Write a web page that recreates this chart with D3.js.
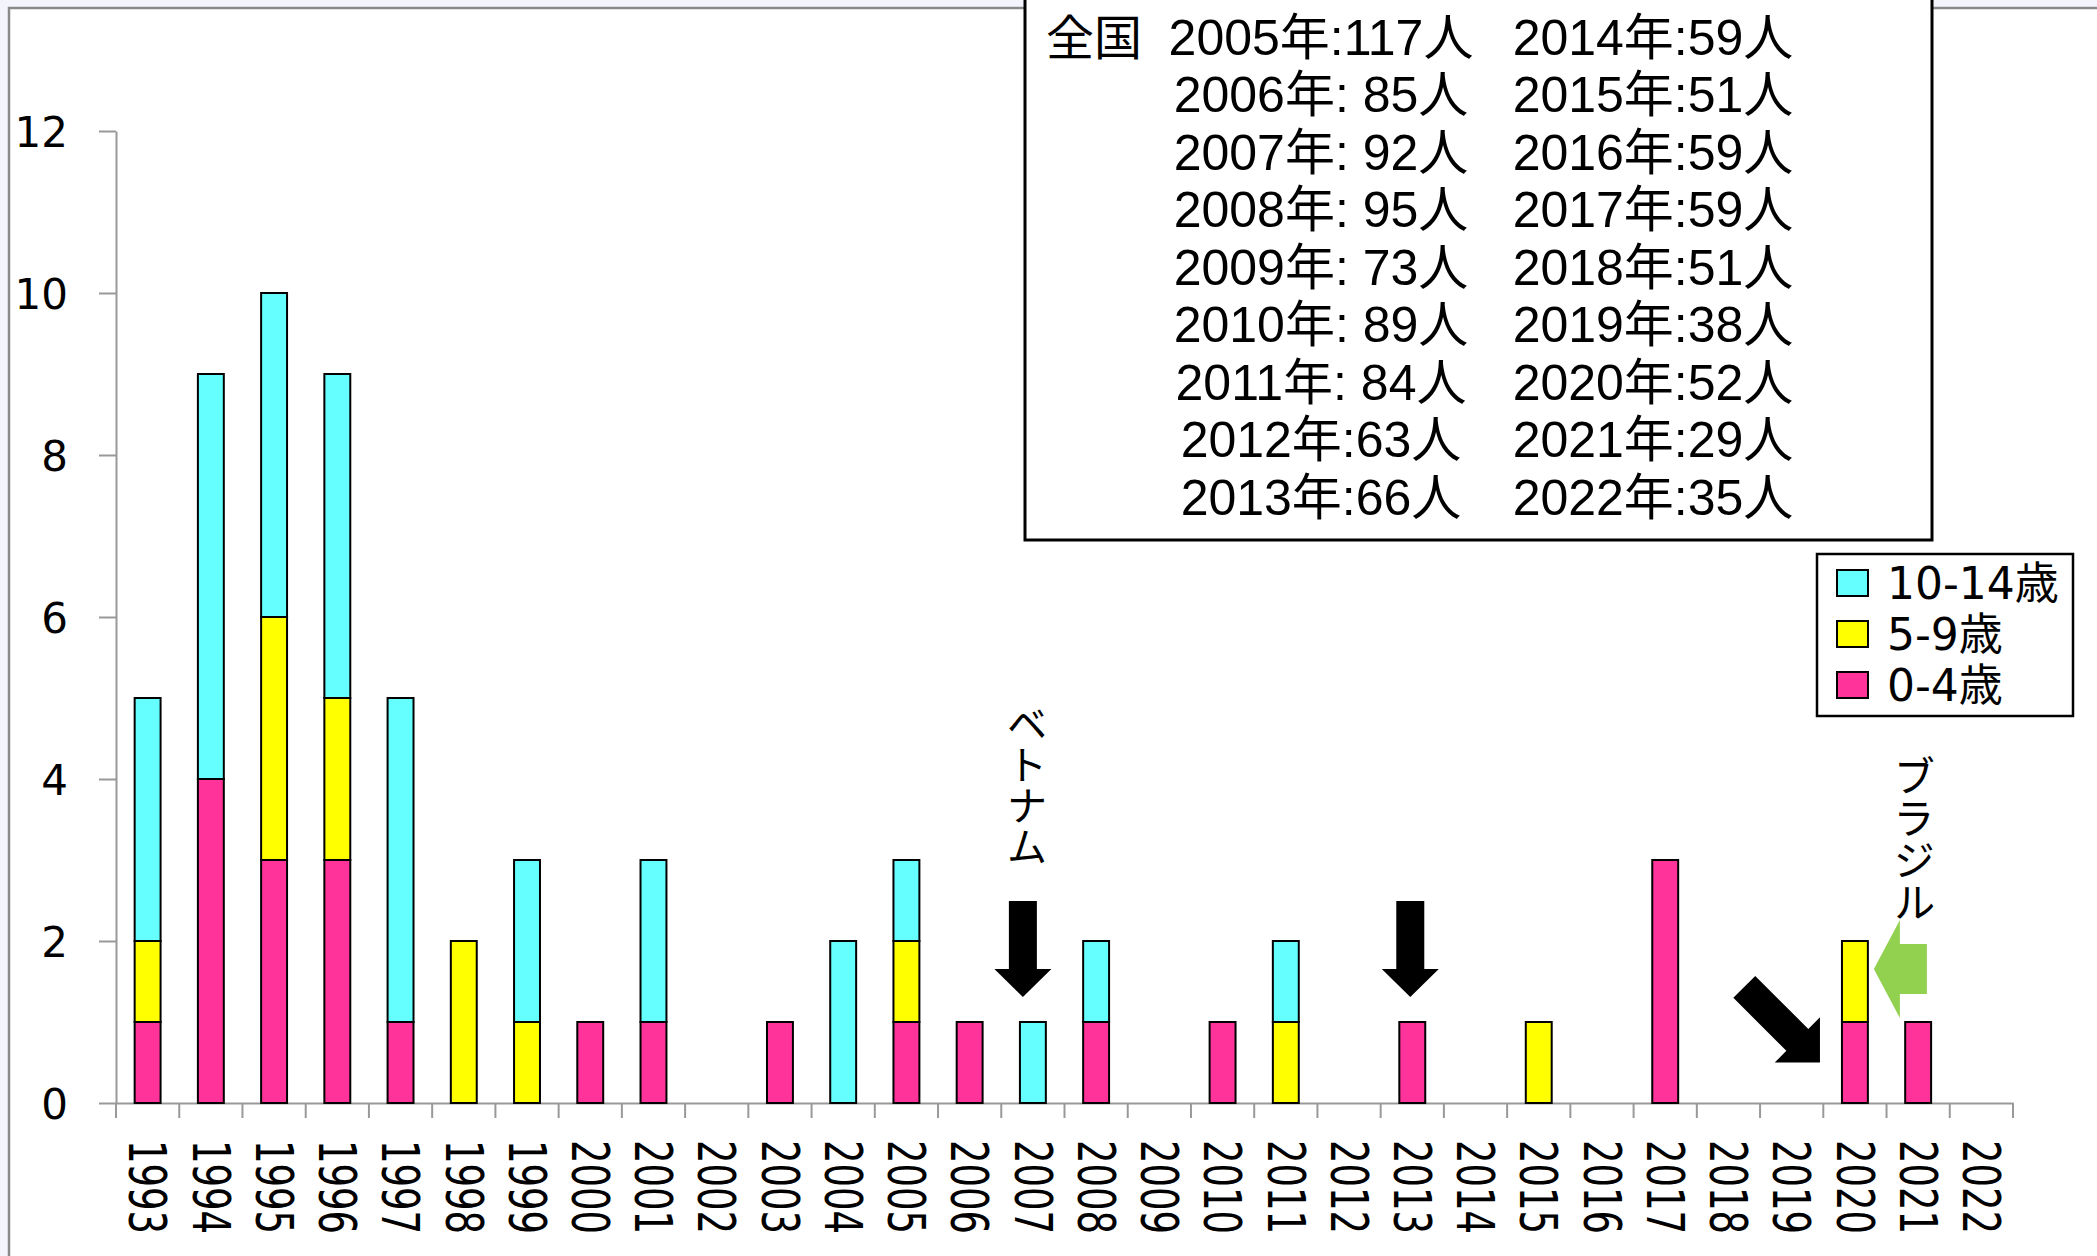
<!DOCTYPE html>
<html lang="ja">
<head>
<meta charset="utf-8">
<script src="https://cdn.jsdelivr.net/npm/d3@7"></script>
<style>
  html, body { margin: 0; padding: 0; background: #fff; }
  svg { display: block; }
  text { font-family: "DejaVu Sans", "Noto Sans CJK JP", sans-serif; fill: #000; }
  .cjk { font-family: "Noto Sans CJK JP", sans-serif; }
  .boxText { font-family: "Liberation Sans", "Noto Sans CJK JP", sans-serif; white-space: pre; }
</style>
</head>
<body>
<svg id="chart" width="2097" height="1256"></svg>
<script>
// Cases by year and age group
const years = ["1993","1994","1995","1996","1997","1998","1999","2000","2001","2002",
               "2003","2004","2005","2006","2007","2008","2009","2010","2011","2012",
               "2013","2014","2015","2016","2017","2018","2019","2020","2021","2022"];
const age0to4   = [1,4,3,3,1,0,0,1,1,0,1,0,1,1,0,1,0,1,0,0,1,0,0,0,3,0,0,1,1,0];
const age5to9   = [1,0,3,2,0,2,1,0,0,0,0,0,1,0,0,0,0,0,1,0,0,0,1,0,0,0,0,1,0,0];
const age10to14 = [3,5,4,4,4,0,2,0,2,0,0,2,1,0,1,1,0,0,1,0,0,0,0,0,0,0,0,0,0,0];

const seriesKeys   = ["0-4歳", "5-9歳", "10-14歳"];
const seriesColors = ["#ff3399", "#ffff00", "#66ffff"];
const legendOrder  = ["10-14歳", "5-9歳", "0-4歳"];
const yTicks = [0, 2, 4, 6, 8, 10, 12];

// Nationwide totals shown in the note box
const nationalTitle = "全国";
const nationalLeft  = ["2005年:117人","2006年: 85人","2007年: 92人","2008年: 95人","2009年: 73人",
                       "2010年: 89人","2011年: 84人","2012年:63人","2013年:66人"];
const nationalRight = ["2014年:59人","2015年:51人","2016年:59人","2017年:59人","2018年:51人",
                       "2019年:38人","2020年:52人","2021年:29人","2022年:35人"];

const rows = years.map((yr, i) => ({
  year: yr, "0-4歳": age0to4[i], "5-9歳": age5to9[i], "10-14歳": age10to14[i]
}));

const W = 2097, H = 1256;
const plot = { left: 116, right: 2013, top: 131, bottom: 1103 };
const svg = d3.select("#chart");

// Slide background and plot-area frame
svg.append("rect").attr("width", W).attr("height", H).attr("fill", "#f4f4fd");
svg.append("rect").attr("x", 9).attr("y", 8).attr("width", W).attr("height", H).attr("fill", "#fff");
svg.append("path").attr("d", `M9,${H}V8H${W}`).attr("fill", "none")
  .attr("stroke", "#8a8a8a").attr("stroke-width", 2.5);

const x = d3.scaleBand().domain(years).range([plot.left, plot.right])
  .paddingInner(0.59).paddingOuter(0.295);
const y = d3.scaleLinear().domain([0, 12]).range([plot.bottom, plot.top]);
const color = d3.scaleOrdinal().domain(seriesKeys).range(seriesColors);

// Y axis
const yAxis = svg.append("g").attr("transform", `translate(${plot.left},0)`)
  .call(d3.axisLeft(y).tickValues(yTicks).tickSize(17).tickSizeOuter(0).tickPadding(31))
  .attr("font-size", null).attr("font-family", null);
yAxis.select(".domain").attr("stroke", "#999").attr("stroke-width", 2);
yAxis.selectAll(".tick line").attr("stroke", "#999").attr("stroke-width", 2);
yAxis.selectAll(".tick text").attr("font-size", 42).attr("dy", "0.36em");

// X axis: labels from the band scale, ticks at category boundaries.
// Labels run downwards with tall, narrow glyphs.
const xAxis = svg.append("g").attr("transform", `translate(0,${plot.bottom})`)
  .call(d3.axisBottom(x).tickSize(0).tickSizeOuter(0).tickPadding(0))
  .attr("font-size", null).attr("font-family", null).attr("text-anchor", null);
xAxis.select(".domain").attr("stroke", "#999").attr("stroke-width", 2);
xAxis.selectAll(".tick text")
  .attr("x", 0).attr("y", 0).attr("dy", "0.36em")
  .attr("transform", "translate(0,37) rotate(90) scale(1,1.37)")
  .attr("text-anchor", "start")
  .attr("font-size", 37);
xAxis.selectAll(".boundary")
  .data(d3.range(years.length + 1).map(i => x.range()[0] + i * x.step()))
  .join("line").attr("class", "boundary")
  .attr("x1", d => d).attr("x2", d => d).attr("y1", 0).attr("y2", 15)
  .attr("stroke", "#999").attr("stroke-width", 2);

// Stacked bars
const stacked = d3.stack().keys(seriesKeys)(rows);
svg.append("g").selectAll("g").data(stacked).join("g")
  .attr("fill", d => color(d.key))
  .selectAll("rect")
  .data(d => d.filter(s => s[1] > s[0]))
  .join("rect")
  .attr("x", d => x(d.data.year))
  .attr("width", x.bandwidth())
  .attr("y", d => y(d[1]))
  .attr("height", d => y(d[0]) - y(d[1]))
  .attr("stroke", "#000").attr("stroke-width", 2);

// Block arrow pointing down with its tip at the origin
function blockArrow(len, headLen, headW, shaftW) {
  return `M0,0L${headW/2},${-headLen}L${shaftW/2},${-headLen}L${shaftW/2},${-len}` +
         `L${-shaftW/2},${-len}L${-shaftW/2},${-headLen}L${-headW/2},${-headLen}Z`;
}
const centre = yr => x(yr) + x.bandwidth() / 2;

svg.append("path").attr("d", blockArrow(96, 28, 57, 28))
  .attr("transform", `translate(${centre("2007") - 10},${y(1) - 25})`).attr("fill", "#000");
svg.append("path").attr("d", blockArrow(96, 28, 57, 28))
  .attr("transform", `translate(${centre("2013") - 2},${y(1) - 25})`).attr("fill", "#000");
svg.append("path").attr("d", blockArrow(107, 32, 64, 31))
  .attr("transform", `translate(${x("2020") - 22},${y(0.5)}) rotate(-45)`).attr("fill", "#000");

// Green arrow pointing at the 2020 bar
svg.append("path").attr("d", "M0,0L26,-49L26,-25L53,-25L53,25L26,25L26,49Z")
  .attr("transform", `translate(${x("2020") + x.bandwidth() + 6},${y(2) + 28})`)
  .attr("fill", "#92d050");

// Country annotations, written vertically
svg.append("text").attr("class", "cjk")
  .attr("x", centre("2007") - 6).attr("y", 703)
  .attr("writing-mode", "vertical-rl").attr("font-size", 41)
  .text("ベトナム");
svg.append("text").attr("class", "cjk")
  .attr("x", centre("2021") - 4).attr("y", 755)
  .attr("writing-mode", "vertical-rl").attr("font-size", 42)
  .text("ブラジル");

// Nationwide note box
const note = svg.append("g");
note.append("rect").attr("x", 1025).attr("y", -10).attr("width", 907).attr("height", 550)
  .attr("fill", "#fff").attr("stroke", "#000").attr("stroke-width", 3);
note.append("text").attr("class", "boxText").attr("x", 1046).attr("y", 54.5)
  .attr("font-size", 48).text(nationalTitle);
note.selectAll(".left").data(nationalLeft).join("text").attr("class", "boxText left")
  .attr("x", 1321).attr("y", (d, i) => 54.5 + i * 57.5)
  .attr("text-anchor", "middle").attr("font-size", 50).text(d => d);
note.selectAll(".right").data(nationalRight).join("text").attr("class", "boxText right")
  .attr("x", 1653).attr("y", (d, i) => 54.5 + i * 57.5)
  .attr("text-anchor", "middle").attr("font-size", 50).text(d => d);

// Legend
const legend = svg.append("g");
legend.append("rect").attr("x", 1817).attr("y", 554).attr("width", 256).attr("height", 162)
  .attr("fill", "#fff").attr("stroke", "#000").attr("stroke-width", 2.5);
const item = legend.selectAll(".item").data(legendOrder).join("g").attr("class", "item")
  .attr("transform", (d, i) => `translate(1837,${583 + i * 51})`);
item.append("rect").attr("x", 0).attr("y", -13).attr("width", 31).attr("height", 26)
  .attr("fill", d => color(d)).attr("stroke", "#000").attr("stroke-width", 2);
item.append("text").attr("x", 50).attr("dy", "0.36em").attr("font-size", 44).text(d => d);
</script>
</body>
</html>
